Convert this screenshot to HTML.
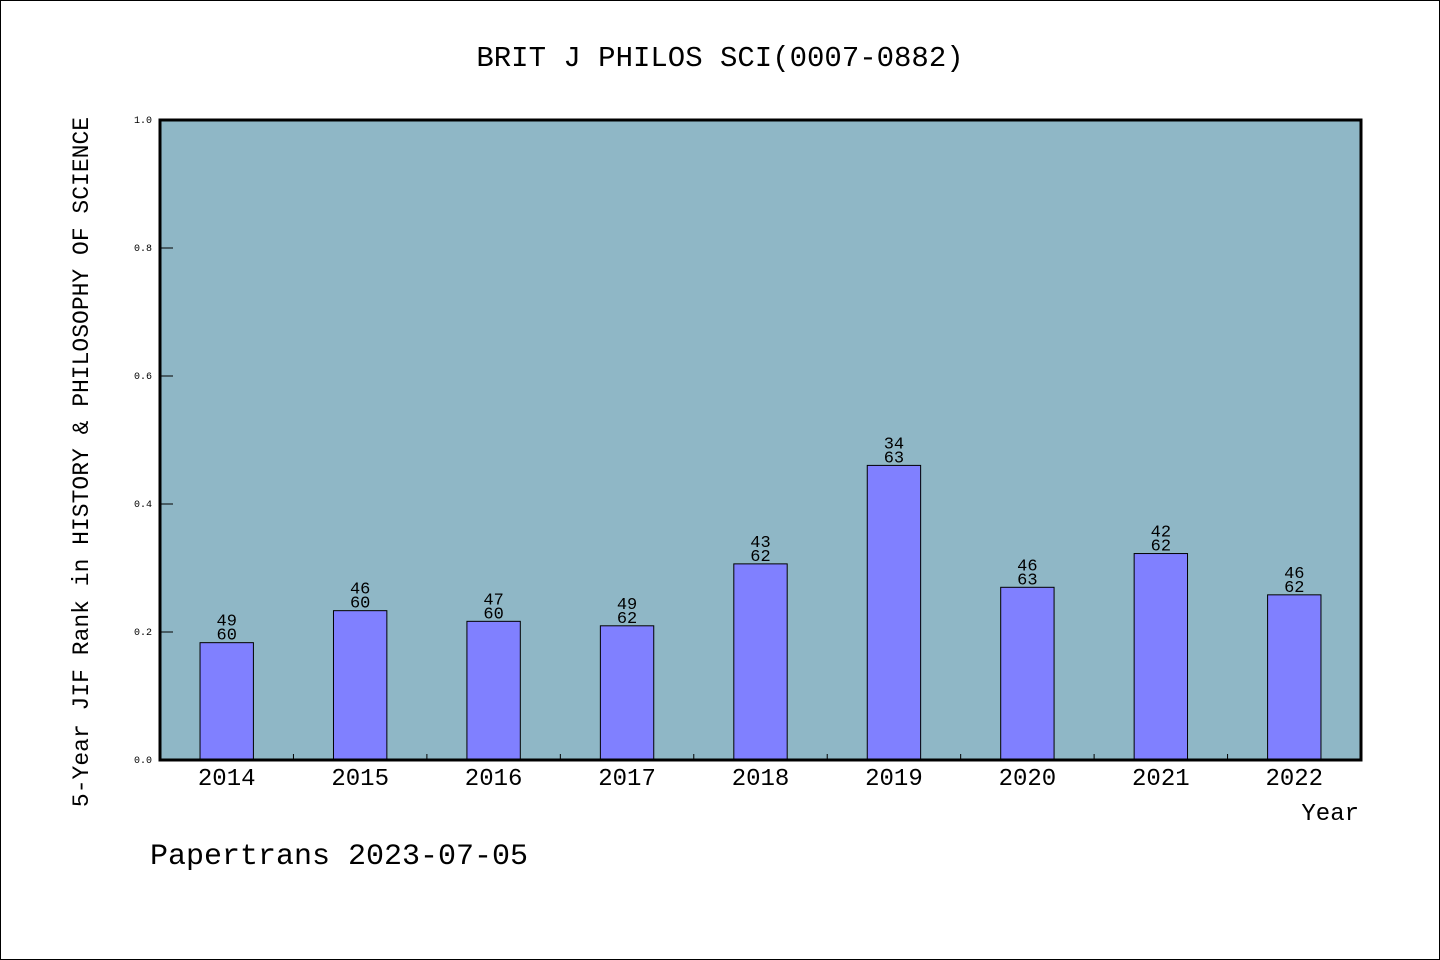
<!DOCTYPE html>
<html><head><meta charset="utf-8"><style>
html,body{margin:0;padding:0;background:#fff}
svg{display:block}
text{font-family:"Liberation Mono",monospace;fill:#000}
</style></head><body>
<svg id="chart" width="1440" height="960" viewBox="0 0 1440 960">
<rect x="0.5" y="0.5" width="1439" height="959" fill="#fff" stroke="#000"/>
<text x="720" y="66" font-size="29" text-anchor="middle">BRIT J PHILOS SCI(0007-0882)</text>
<rect x="160" y="120" width="1201" height="640" fill="#8fb7c6"/>
<g id="bars"></g>
<g id="ticks"></g>
<rect x="160" y="120" width="1201" height="640" fill="none" stroke="#000" stroke-width="3"/>
<text transform="translate(88,462) rotate(-90)" font-size="23" text-anchor="middle">5-Year JIF Rank in HISTORY &amp; PHILOSOPHY OF SCIENCE</text>
<text x="1359" y="820" font-size="24" text-anchor="end">Year</text>
<text x="150" y="864" font-size="30">Papertrans 2023-07-05</text>
</svg>
<script>
const categories = ["2014","2015","2016","2017","2018","2019","2020","2021","2022"];
const ranks = [49,46,47,49,43,34,46,42,46];
const totals = [60,60,60,62,62,63,63,62,62];
const yTicks = [0,0.2,0.4,0.6,0.8,1.0];
const yTickLabels = ["0.0","0.2","0.4","0.6","0.8","1.0"];

const NS="http://www.w3.org/2000/svg";
const X0=160,X1=1361,Y0=760,Y1=120;
const band=(X1-X0)/categories.length;
function xCenter(i){return X0+band*(i+0.5);}
function yScale(v){return Y0-(Y0-Y1)*v;}
function mk(tag,attrs,parent){const e=document.createElementNS(NS,tag);for(const k in attrs)e.setAttribute(k,attrs[k]);parent.appendChild(e);return e;}
const bars=document.getElementById('bars'),ticks=document.getElementById('ticks');
const bw=band*0.4;
categories.forEach((c,i)=>{
  const v=(totals[i]-ranks[i])/totals[i];
  const y=yScale(v);
  const r=mk('rect',{x:xCenter(i)-bw/2,y:y,width:bw,height:Y0-y,fill:'#8080ff',stroke:'#000','stroke-width':1},bars);
  
  
  const t1=mk('text',{x:xCenter(i),y:y-17,'font-size':17,'text-anchor':'middle'},bars);
  t1.textContent=ranks[i];
  
  
  const t2=mk('text',{x:xCenter(i),y:y-3,'font-size':17,'text-anchor':'middle'},bars);
  t2.textContent=totals[i];
  
  
  const xl=mk('text',{x:xCenter(i),y:785,'font-size':24,'text-anchor':'middle'},ticks);
  xl.textContent=c;
  
  
  if(i>0){
    const tk=mk('line',{x1:X0+band*i,x2:X0+band*i,y1:Y0,y2:Y0-6,stroke:'#000','stroke-width':1},ticks);
    
    
  }
});
yTicks.forEach((v,i)=>{
  const y=yScale(v);
  const tk=mk('line',{x1:X0,x2:X0+13,y1:y,y2:y,stroke:'#000','stroke-width':1},ticks);
  
  
  const tl=mk('text',{x:152,y:y+3,'font-size':10,'text-anchor':'end','font-family':'Liberation Sans, sans-serif'},ticks);
  tl.textContent=yTickLabels[i];
  
  
});
</script>
</body></html>
